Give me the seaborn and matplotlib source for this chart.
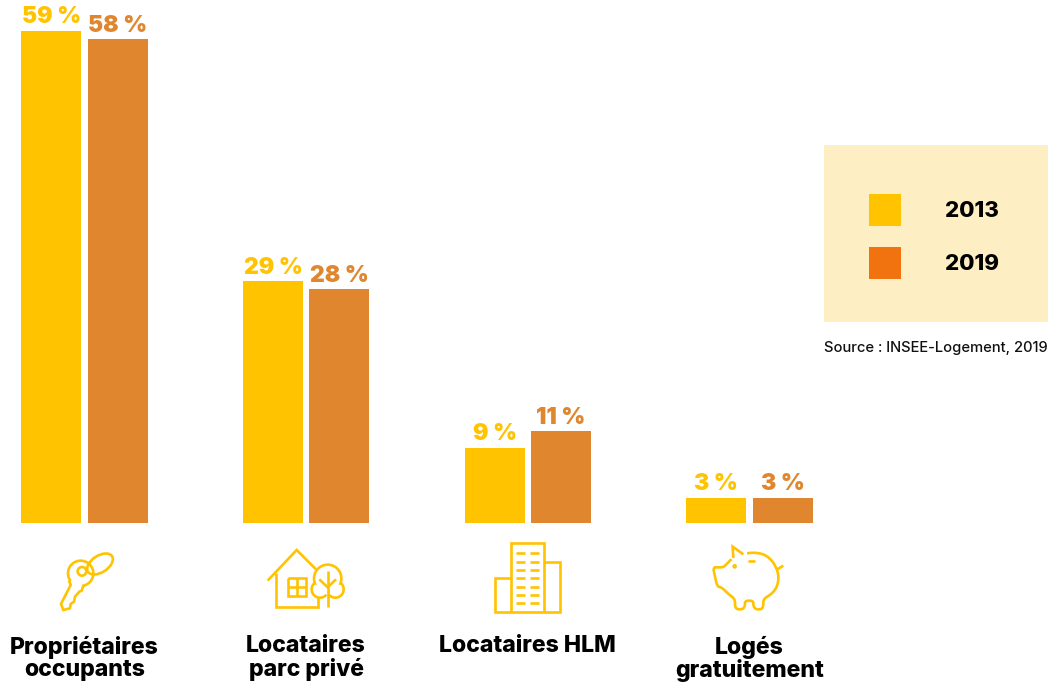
import numpy as np
import pandas as pd
import seaborn as sns
import matplotlib.pyplot as plt
from matplotlib.patches import Patch, Rectangle, Ellipse

categories = ["Propriétaires\noccupants", "Locataires\nparc privé", "Locataires HLM", "Logés\ngratuitement"]
years = ["2013", "2019"]
values_2013 = [59, 29, 9, 3]
values_2019 = [58, 28, 11, 3]

GOLD = "#FFC300"
ORANGE = "#DF862F"
LEGEND_ORANGE = "#F0730F"
BOX = "#FDEFC3"

sns.set_theme(style="white")
plt.rcParams['font.family'] = ['Inter', 'DejaVu Sans']

df = pd.DataFrame({
    "categorie": categories * 2,
    "annee": [years[0]] * 4 + [years[1]] * 4,
    "part": values_2013 + values_2019,
})

fig = plt.figure(figsize=(10.48, 6.84), dpi=100, facecolor="white")
ax = fig.add_axes([0, 161 / 684, 1, 523 / 684])

sns.barplot(data=df, x="categorie", y="part", hue="annee", hue_order=years,
            palette=[GOLD, ORANGE], saturation=1, width=0.6, gap=0.0977,
            errorbar=None, legend=False, linewidth=0, edgecolor="none", ax=ax)

ax.set_xlim(-0.3812, 4.3466)
ax.set_ylim(0, 62.7)
ax.set_xlabel("")
ax.set_ylabel("")
ax.set_yticks([])
ax.tick_params(axis="x", length=0, pad=81, labelsize=16.6)
for lab in ax.get_xticklabels():
    lab.set_fontweight(800)
    lab.set_color("black")
    lab.set_linespacing(1.05)
sns.despine(ax=ax, left=True, bottom=True, top=True, right=True)
ax.patch.set_alpha(0)

for cont, col in zip(ax.containers, [GOLD, ORANGE]):
    ax.bar_label(cont, fmt="%g %%", padding=1.8, color=col, fontsize=16.5, fontweight=900)

# overlay in pixel coords for the icons and the legend box
ov = fig.add_axes([0, 0, 1, 1])
ov.set_xlim(0, 1048)
ov.set_ylim(684, 0)
ov.axis("off")
ov.patch.set_alpha(0)

ov.add_patch(Rectangle((824, 145), 224, 177, facecolor=BOX, edgecolor="none"))
handles = [Patch(facecolor=GOLD, edgecolor="none", linewidth=0, label=years[0]),
           Patch(facecolor=LEGEND_ORANGE, edgecolor="none", linewidth=0, label=years[1])]
leg = ov.legend(handles=handles, loc="upper left", bbox_to_anchor=(869, 194),
                bbox_transform=ov.transData, frameon=False, fontsize=16,
                handlelength=1.44, handleheight=1.835, handletextpad=1.98,
                labelspacing=0.95, borderpad=0, borderaxespad=0)
for t in leg.get_texts():
    t.set_fontweight(800)
    t.set_color("black")
ov.text(824, 348, "Source : INSEE-Logement, 2019", fontsize=10.6, fontweight=500,
        color="#111111", va="center", ha="left")


def arc(cx, cy, r, a, b):
    t = np.radians(np.linspace(a, b, 40))
    return np.column_stack([cx + r * np.cos(t), cy + r * np.sin(t)])


def chaikin(pts, n=2):
    pts = np.asarray(pts, dtype=float)
    for _ in range(n):
        q = 0.75 * pts[:-1] + 0.25 * pts[1:]
        r = 0.25 * pts[:-1] + 0.75 * pts[1:]
        new = np.empty((2 * len(q), 2))
        new[0::2] = q
        new[1::2] = r
        pts = new
    return pts


def icon_line(pts, off, lw=1.9):
    # points were read on a 3x crop starting at off
    pts = np.asarray(pts, dtype=float)
    ov.plot(pts[:, 0] / 3 + off[0], pts[:, 1] / 3 + off[1], color=GOLD, lw=lw,
            solid_capstyle="butt", solid_joinstyle="miter")


off_a = (30, 530)
off_b = (470, 530)

# key
head = arc(152, 130, 38, 143, 437)
shaft = [(160, 167), (155, 182), (148, 185), (135, 200), (132, 215), (122, 222), (120, 235),
         (100, 240), (93, 222), (122, 165), (118, 155), (122, 153)]
icon_line(np.vstack([head, shaft]), off_a)
icon_line(arc(156, 124, 13, 0, 360), off_a)
ov.add_patch(Ellipse((210 / 3 + off_a[0], 102 / 3 + off_a[1]), 86 / 3, 50 / 3, angle=-33,
                     fill=False, edgecolor=GOLD, lw=1.9))

# house with tree
icon_line([(713, 152), (800, 60), (858, 118)], off_a)
icon_line([(737, 130), (737, 232), (863, 232), (863, 200)], off_a)
icon_line([(775, 145), (828, 145), (828, 197), (775, 197), (775, 145)], off_a)
icon_line([(802, 145), (802, 197)], off_a)
icon_line([(775, 172), (828, 172)], off_a)
crown = np.vstack([arc(870, 178, 25, 40, 230), arc(893, 145, 41, 160, 380), arc(916, 178, 25, -50, 140)])
icon_line(crown, off_a)
icon_line([(893, 122), (893, 232)], off_a)
icon_line([(868, 148), (893, 172), (918, 148)], off_a)

# buildings
icon_line([(122, 247), (122, 40), (222, 40), (222, 247)], off_b)
icon_line([(222, 95), (270, 95), (270, 247), (75, 247), (75, 143), (122, 143)], off_b)
for y in [70, 95, 120, 145, 170, 195, 220]:
    icon_line([(138, y), (165, y)], off_b)
    icon_line([(180, y), (207, y)], off_b)

# piggy bank
pig_body = [(820, 72), (850, 67), (885, 73), (912, 98), (927, 135), (922, 170), (905, 192),
            (880, 207), (880, 228), (875, 238), (857, 238), (850, 228), (850, 212), (825, 212),
            (825, 228), (818, 238), (800, 238), (795, 228), (795, 207), (775, 192), (755, 172),
            (742, 170), (735, 140), (729, 112), (745, 112), (760, 112), (775, 97), (790, 82)]
icon_line(chaikin(pig_body, 2), off_b)
icon_line([(790, 84), (788, 50), (820, 73)], off_b)
icon_line([(834, 92), (855, 92)], off_b)
icon_line([(922, 118), (940, 107)], off_b)
icon_line(arc(794, 109, 3, 0, 360), off_b)

plt.savefig("out.png", dpi=100)
plt.close()
